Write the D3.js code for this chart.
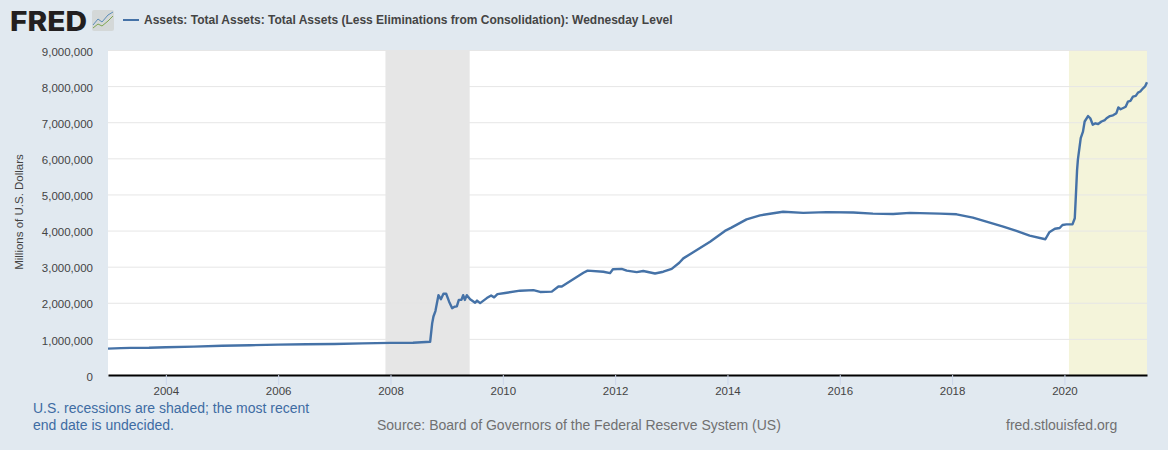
<!DOCTYPE html>
<html>
<head>
<meta charset="utf-8">
<script src="https://cdn.jsdelivr.net/npm/d3@7"></script>
<style>
  html, body { margin: 0; padding: 0; background: #e1e9f0; }
  svg { display: block; font-family: "Liberation Sans", Arial, sans-serif; }
</style>
</head>
<body>
<div id="chart"></div>
<script>
// decimal years and total assets in millions of dollars
const years = [
  2002.97, 2003.2, 2003.37, 2003.7, 2004, 2004.5, 2005, 2005.5, 2006, 2006.5, 2007, 2007.5, 2008, 2008.4,
  2008.706, 2008.742, 2008.765, 2008.8, 2008.854, 2008.897, 2008.943, 2008.991, 2009.044, 2009.098, 2009.139,
  2009.181, 2009.217, 2009.263, 2009.294, 2009.324, 2009.359, 2009.418, 2009.507, 2009.541, 2009.596, 2009.715,
  2009.792, 2009.845, 2009.904, 2010.04, 2010.308, 2010.545, 2010.664, 2010.872, 2010.99, 2011.05, 2011.435,
  2011.51, 2011.79, 2011.91, 2011.96, 2012.117, 2012.206, 2012.384, 2012.5, 2012.71, 2012.858, 2013.007, 2013.142,
  2013.214, 2013.39, 2013.69, 2013.955, 2014.07, 2014.34, 2014.58, 2014.815, 2014.99, 2015.35, 2015.765, 2016.24, 2016.59,
  2016.95, 2017.25, 2017.78, 2018.08, 2018.37, 2018.61, 2018.91, 2019.145, 2019.38, 2019.66, 2019.73, 2019.83,
  2019.915, 2019.965, 2020.036, 2020.143, 2020.184, 2020.2, 2020.225, 2020.24, 2020.29, 2020.33, 2020.36, 2020.42,
  2020.46, 2020.505, 2020.55, 2020.6, 2020.66, 2020.72, 2020.75, 2020.81, 2020.865, 2020.925, 2020.96, 2021.0,
  2021.055, 2021.09, 2021.13, 2021.175, 2021.22, 2021.27, 2021.31, 2021.35, 2021.4, 2021.435, 2021.47
];
const assets = [
  730000, 745000, 750000, 755000, 770000, 785000, 810000, 825000, 840000, 850000, 860000, 875000, 890000, 895000,
  920000, 1430000, 1620000, 1770000, 2210000, 2100000, 2250000, 2250000, 2030000, 1850000, 1890000,
  1900000, 2080000, 2080000, 2210000, 2080000, 2210000, 2100000, 2000000, 2060000, 1990000, 2130000,
  2200000, 2150000, 2240000, 2270000, 2335000, 2350000, 2300000, 2310000, 2450000, 2450000, 2830000,
  2890000, 2860000, 2820000, 2930000, 2940000, 2890000, 2850000, 2880000, 2810000, 2860000, 2940000, 3110000,
  3230000, 3400000, 3690000, 3990000, 4080000, 4310000, 4420000, 4480000, 4520000, 4490000, 4510000, 4500000, 4470000,
  4460000, 4490000, 4470000, 4450000, 4360000, 4250000, 4110000, 3990000, 3860000, 3760000, 3950000, 4050000,
  4070000, 4155000, 4170000, 4170000, 4340000, 4850000, 5680000, 5970000, 6560000, 6740000, 7020000, 7170000,
  7110000, 6930000, 6970000, 6950000, 7020000, 7060000, 7110000, 7170000, 7190000, 7250000, 7410000, 7360000,
  7400000, 7430000, 7570000, 7590000, 7710000, 7730000, 7820000, 7850000, 7940000, 7990000, 8110000
];
const recessionYears = [2007.91, 2009.41];
const currentRecessionYears = [2020.08, 2021.47];
const yTicks = [0, 1000000, 2000000, 3000000, 4000000, 5000000, 6000000, 7000000, 8000000, 9000000];
const xTicks = [2004, 2006, 2008, 2010, 2012, 2014, 2016, 2018, 2020];

const width = 1168, height = 450;
const margin = { top: 50, right: 21, bottom: 75, left: 108 };

const x = d3.scaleLinear()
  .domain([years[0], years[years.length - 1]])
  .range([margin.left, width - margin.right]);
const y = d3.scaleLinear()
  .domain([0, 9000000])
  .range([height - margin.bottom, margin.top]);

const svg = d3.select("#chart").append("svg")
  .attr("width", width)
  .attr("height", height)
  .attr("viewBox", [0, 0, width, height]);

svg.append("rect")
  .attr("width", width).attr("height", height)
  .attr("fill", "#e1e9f0");

svg.append("rect")
  .attr("x", margin.left).attr("y", margin.top)
  .attr("width", width - margin.left - margin.right)
  .attr("height", height - margin.top - margin.bottom)
  .attr("fill", "#ffffff");

// recession bands
svg.append("rect")
  .attr("x", x(recessionYears[0])).attr("y", margin.top)
  .attr("width", x(recessionYears[1]) - x(recessionYears[0]))
  .attr("height", y(0) - margin.top)
  .attr("fill", "#e6e6e6");
svg.append("rect")
  .attr("x", x(currentRecessionYears[0])).attr("y", margin.top)
  .attr("width", x(currentRecessionYears[1]) - x(currentRecessionYears[0]))
  .attr("height", y(0) - margin.top)
  .attr("fill", "#f4f4da");

// y axis with gridlines
const yAxisG = svg.append("g")
  .attr("transform", `translate(${margin.left},0)`)
  .call(d3.axisLeft(y).tickValues(yTicks).tickSize(0).tickPadding(15)
    .tickFormat(d3.format(",")))
  .call((g) => g.select(".domain").remove())
  .call((g) => g.selectAll(".tick line").clone()
    .attr("x2", width - margin.left - margin.right)
    .attr("stroke", "#e6e6e6")
    .attr("stroke-width", 1));
yAxisG.selectAll(".tick text")
  .attr("dy", "0.45em")
  .attr("font-size", 11.5)
  .attr("font-family", "Liberation Sans, Arial, sans-serif")
  .attr("fill", "#444444");

// x axis
svg.append("g")
  .attr("transform", `translate(0,${y(0)})`)
  .call(d3.axisBottom(x).tickValues(xTicks).tickSize(10).tickSizeOuter(0).tickPadding(2)
    .tickFormat(d3.format("d")))
  .call((g) => g.select(".domain")
    .attr("stroke", "#000000").attr("stroke-width", 2.2))
  .call((g) => g.selectAll(".tick line").attr("stroke", "#ccd6eb"))
  .call((g) => g.selectAll(".tick text")
    .attr("font-size", 11.5)
    .attr("font-family", "Liberation Sans, Arial, sans-serif")
    .attr("fill", "#444444"));

// series line
const line = d3.line()
  .x((d, i) => x(years[i]))
  .y((d) => y(d));
svg.append("path")
  .attr("fill", "none")
  .attr("stroke", "#4572a7")
  .attr("stroke-width", 2.4)
  .attr("stroke-linejoin", "round")
  .attr("d", line(assets));

// y axis title
svg.append("text")
  .attr("transform", "translate(23,212) rotate(-90)")
  .attr("text-anchor", "middle")
  .attr("font-size", 11.5)
  .attr("fill", "#444444")
  .text("Millions of U.S. Dollars");

// legend
svg.append("line")
  .attr("x1", 123).attr("x2", 139)
  .attr("y1", 20).attr("y2", 20)
  .attr("stroke", "#4572a7").attr("stroke-width", 2);
svg.append("text")
  .attr("x", 144).attr("y", 24)
  .attr("font-size", 12)
  .attr("font-weight", "bold")
  .attr("fill", "#444444")
  .text("Assets: Total Assets: Total Assets (Less Eliminations from Consolidation): Wednesday Level");

// FRED logo
svg.append("text")
  .attr("x", 10).attr("y", 30.5)
  .attr("font-family", "Inter, 'Open Sans', sans-serif")
  .attr("font-size", 27)
  .attr("font-weight", 800)
  .attr("textLength", 77)
  .attr("lengthAdjust", "spacingAndGlyphs")
  .attr("fill", "#231f20")
  .text("FRED");
const logoIcon = svg.append("g").attr("transform", "translate(92,10)");
logoIcon.append("rect")
  .attr("width", 22).attr("height", 21).attr("rx", 2)
  .attr("fill", "#d4d8d8");
logoIcon.append("path")
  .attr("d", "M1,15 L6,9 L10,12 L16,5 L21,2")
  .attr("fill", "none").attr("stroke", "#5b8db8").attr("stroke-width", 1);
logoIcon.append("path")
  .attr("d", "M1,18 L6,14 L10,16 L16,11 L21,6")
  .attr("fill", "none").attr("stroke", "#7fa650").attr("stroke-width", 1);

// footer notes
const note = svg.append("g")
  .attr("font-size", 14)
  .attr("fill", "#3e6ca3");
note.append("text").attr("x", 33).attr("y", 413)
  .text("U.S. recessions are shaded; the most recent");
note.append("text").attr("x", 33).attr("y", 430)
  .text("end date is undecided.");

svg.append("text")
  .attr("x", 377).attr("y", 430)
  .attr("font-size", 14)
  .attr("fill", "#707070")
  .text("Source: Board of Governors of the Federal Reserve System (US)");
svg.append("text")
  .attr("x", 1006).attr("y", 430)
  .attr("font-size", 14)
  .attr("fill", "#707070")
  .text("fred.stlouisfed.org");
</script>
</body>
</html>
